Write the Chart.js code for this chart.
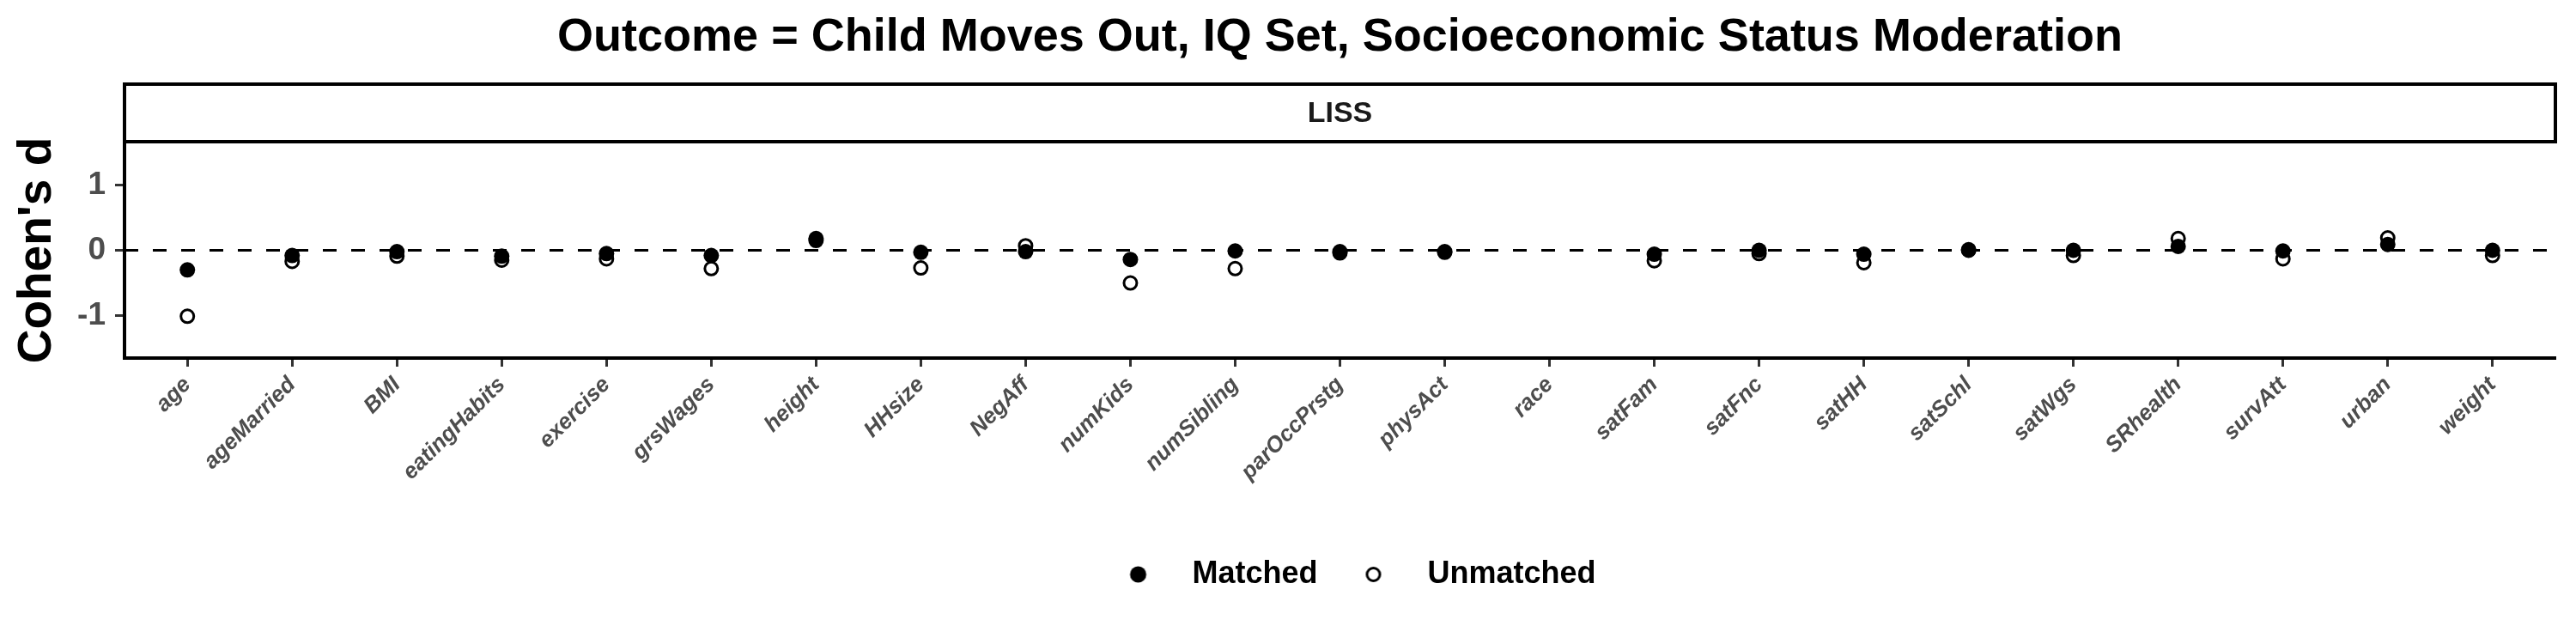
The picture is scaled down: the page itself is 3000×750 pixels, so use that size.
<!DOCTYPE html>
<html>
<head>
<meta charset="utf-8">
<script src="https://cdn.jsdelivr.net/npm/chart.js@4.4.1/dist/chart.umd.min.js"></script>
<style>
    body { margin: 0; background: #ffffff; }
    #wrap { width: 3000px; height: 750px; }
</style>
</head>
<body>
<div id="wrap"><canvas id="grafico" width="3000" height="750"></canvas></div>
<script>
// dados
const variaveis = ['age', 'ageMarried', 'BMI', 'eatingHabits', 'exercise', 'grsWages', 'height', 'HHsize',
    'NegAff', 'numKids', 'numSibling', 'parOccPrstg', 'physAct', 'race', 'satFam', 'satFnc', 'satHH',
    'satSchl', 'satWgs', 'SRhealth', 'survAtt', 'urban', 'weight'];
const matched = [-0.30, -0.08, -0.02, -0.09, -0.05, -0.08, 0.18, -0.03, -0.02, -0.14, -0.01, -0.02,
    -0.02, null, -0.06, 0.00, -0.06, 0.01, 0.00, 0.06, -0.01, 0.09, 0.00];
const unmatched = [-1.01, -0.17, -0.09, -0.15, -0.13, -0.28, 0.15, -0.27, 0.07, -0.50, -0.28, -0.04,
    -0.03, null, -0.16, -0.05, -0.19, 0.00, -0.08, 0.18, -0.13, 0.19, -0.08];
const yTicks = [-1, 0, 1];
const titulo = 'Outcome = Child Moves Out, IQ Set, Socioeconomic Status Moderation';
const painel = 'LISS';

const FONTE = "'Liberation Sans', Arial, sans-serif";

function pontos(valores) {
    return valores.map((v, i) => ({ x: i, y: v }));
}

// simbolos da legenda
function simbolo(cheio) {
    const c = document.createElement('canvas');
    c.width = 24;
    c.height = 24;
    const g = c.getContext('2d');
    g.beginPath();
    if (cheio) {
        g.arc(12, 12, 9.5, 0, Math.PI * 2);
        g.fillStyle = '#000';
        g.fill();
    } else {
        g.arc(12, 12, 7.5, 0, Math.PI * 2);
        g.lineWidth = 3;
        g.strokeStyle = '#000';
        g.stroke();
    }
    return c;
}

// caixa do painel (strip) e linha tracejada no zero
const extras = {
    id: 'extras',
    afterLayout(chart) {
        const mid = (chart.chartArea.left + chart.chartArea.right) / 2;
        chart.boxes.forEach(b => {
            let alvo = null;
            if (b === chart.legend) alvo = mid + 9;
            else if (b.options && typeof b.options.text === 'string' && b.position === 'top') alvo = mid;
            if (alvo === null) return;
            const d = alvo - (b.left + b.right) / 2;
            b.left += d;
            b.right += d;
        });
    },
    beforeDraw(chart) {
        const { ctx, chartArea } = chart;
        ctx.save();
        ctx.strokeStyle = '#000';
        ctx.lineWidth = 4;
        ctx.strokeRect(chartArea.left, chartArea.top - 68, chartArea.right - chartArea.left, 67);
        ctx.restore();
    },
    beforeDatasetsDraw(chart) {
        const { ctx, chartArea, scales } = chart;
        const y = scales.y.getPixelForValue(0);
        ctx.save();
        ctx.strokeStyle = '#000';
        ctx.lineWidth = 3;
        ctx.setLineDash([16, 17]);
        ctx.beginPath();
        ctx.moveTo(chartArea.left, y);
        ctx.lineTo(chartArea.right, y);
        ctx.stroke();
        ctx.restore();
    }
};

const ctx = document.getElementById('grafico').getContext('2d');
const grafico = new Chart(ctx, {
    type: 'line',
    data: {
        datasets: [
            {
                label: 'Matched',
                data: pontos(matched),
                showLine: false,
                pointStyle: 'circle',
                pointRadius: 9,
                pointBorderWidth: 0,
                pointBackgroundColor: '#000',
                pointBorderColor: '#000',
                legendSimbolo: simbolo(true)
            },
            {
                label: 'Unmatched',
                data: pontos(unmatched),
                showLine: false,
                pointStyle: 'circle',
                pointRadius: 7.5,
                pointBorderWidth: 3,
                pointBackgroundColor: 'rgba(0,0,0,0)',
                pointBorderColor: '#000',
                legendSimbolo: simbolo(false)
            }
        ]
    },
    options: {
        responsive: false,
        animation: false,
        devicePixelRatio: 1,
        layout: { padding: { left: 0, right: 24, top: 0, bottom: 53 } },
        scales: {
            x: {
                type: 'linear',
                min: -0.6,
                max: 22.6,
                afterBuildTicks: (scale) => {
                    scale.ticks = variaveis.map((v, i) => ({ value: i }));
                },
                afterFit: (scale) => { scale.height = 214; },
                ticks: {
                    autoSkip: false,
                    minRotation: 45,
                    maxRotation: 45,
                    padding: 6,
                    color: '#4D4D4D',
                    font: { family: FONTE, size: 26, weight: 'bold', style: 'italic' },
                    callback: (v) => variaveis[v]
                },
                grid: { drawOnChartArea: false, drawTicks: true, tickLength: 10, tickColor: '#333333', tickWidth: 3 },
                border: { display: true, color: '#000', width: 4 }
            },
            y: {
                min: -1.65,
                max: 1.65,
                afterBuildTicks: (scale) => {
                    scale.ticks = yTicks.map(v => ({ value: v }));
                },
                afterFit: (scale) => { scale.width = 145; },
                ticks: {
                    padding: 11,
                    color: '#4D4D4D',
                    font: { family: FONTE, size: 37, weight: 'bold' },
                    callback: (v) => String(v)
                },
                grid: { drawOnChartArea: false, drawTicks: true, tickLength: 11, tickColor: '#333333', tickWidth: 3 },
                border: { display: true, color: '#000', width: 4 },
                title: {
                    display: true,
                    text: "Cohen's d",
                    color: '#000',
                    padding: { top: 11, bottom: 0 },
                    font: { family: FONTE, size: 55, weight: 'bold' }
                }
            }
        },
        plugins: {
            title: {
                display: true,
                text: titulo,
                color: '#000',
                padding: { top: 12, bottom: 0 },
                font: { family: FONTE, size: 54, weight: 'bold' }
            },
            subtitle: {
                display: true,
                text: painel,
                color: '#1A1A1A',
                padding: { top: 35.3, bottom: 13.1 },
                font: { family: FONTE, size: 34, weight: 'bold' }
            },
            legend: {
                position: 'bottom',
                labels: {
                    usePointStyle: true,
                    pointStyleWidth: 90,
                    padding: 20,
                    color: '#000',
                    font: { family: FONTE, size: 36, weight: 'bold' },
                    generateLabels: (chart) => chart.data.datasets.map((ds, i) => ({
                        text: ds.label,
                        pointStyle: ds.legendSimbolo,
                        fillStyle: '#000',
                        strokeStyle: '#000',
                        lineWidth: 0,
                        hidden: false,
                        datasetIndex: i,
                        fontColor: '#000'
                    }))
                }
            },
            tooltip: { enabled: false }
        }
    },
    plugins: [extras]
});
</script>
</body>
</html>
